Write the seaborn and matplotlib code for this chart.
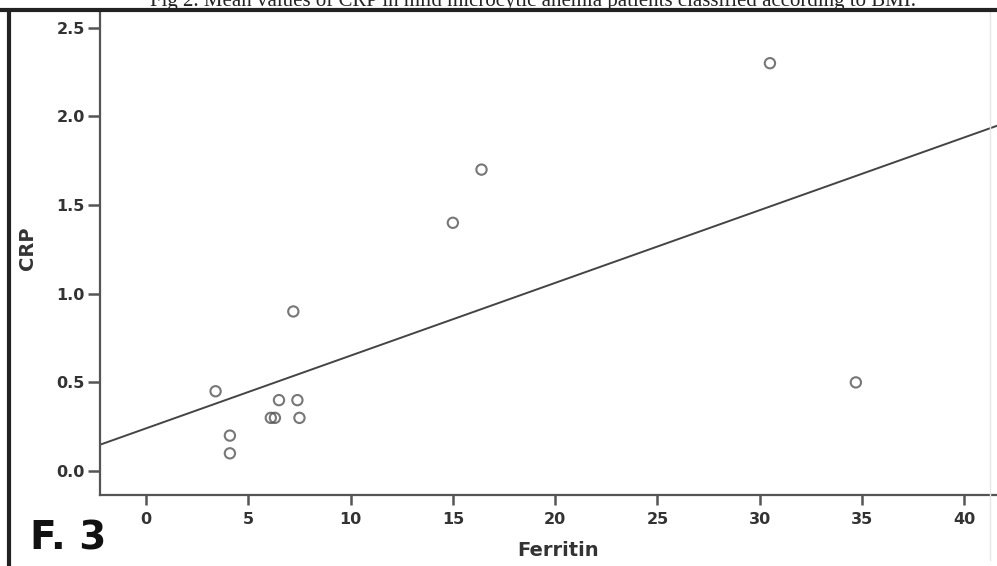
import numpy as np
import pandas as pd
import matplotlib
matplotlib.use("Agg")
import matplotlib.pyplot as plt
import seaborn as sns
from matplotlib.lines import Line2D

# values
ferritin = [3.4, 4.1, 4.1, 6.1, 6.3, 6.5, 7.2, 7.4, 7.5, 15.0, 16.4, 30.5, 34.7]
crp = [0.45, 0.2, 0.1, 0.3, 0.3, 0.4, 0.9, 0.4, 0.3, 1.4, 1.7, 2.3, 0.5]
xticks = [0, 5, 10, 15, 20, 25, 30, 35, 40]
yticks = [0.0, 0.5, 1.0, 1.5, 2.0, 2.5]

data = pd.DataFrame({"Ferritin": ferritin, "CRP": crp})

sns.set_style("white")
plt.rcParams["font.family"] = ["DejaVu Sans"]

fig = plt.figure(figsize=(9.97, 5.66), dpi=100)
ax = fig.add_axes([100 / 997, 1 - 495 / 566, 897 / 997, 485 / 566])
ax.set_xlim(-2.25, 41.6)
ax.set_ylim(-0.135, 2.6)

sns.regplot(data=data, x="Ferritin", y="CRP", ax=ax, ci=None, truncate=False,
            scatter_kws=dict(s=55, facecolors="none", edgecolors="#555555", linewidths=1.5),
            line_kws=dict(color="#444444", lw=1.4))

ax.set_xticks(xticks)
ax.set_yticks(yticks)
ax.set_yticklabels([f"{v:.1f}" for v in yticks])
ax.tick_params(axis="both", which="major", bottom=True, left=True, direction="out",
               width=1.8, color="#555555", labelsize=11.5, labelcolor="#333333")
ax.tick_params(axis="x", length=7.5, pad=4.5)
ax.tick_params(axis="y", length=9, pad=2)
for lab in ax.get_xticklabels() + ax.get_yticklabels():
    lab.set_fontweight("bold")

for s in ["top", "right"]:
    ax.spines[s].set_visible(False)
for s in ["left", "bottom"]:
    ax.spines[s].set_color("#555555")
    ax.spines[s].set_linewidth(1.6)

ax.set_xlabel("Ferritin", fontsize=14, fontweight="bold", color="#333333")
ax.set_ylabel("CRP", fontsize=14, fontweight="bold", color="#333333")
ax.xaxis.label.set_va("center")
ax.yaxis.label.set_va("center")
ax.xaxis.set_label_coords((558 - 100) / 897, -(550 - 495) / 485)
ax.yaxis.set_label_coords(-(100 - 27) / 897, (495 - 248) / 485)

# faint inner frame on the right
fig.add_artist(Line2D([990 / 997, 990 / 997], [1 - 560 / 566, 1 - 12 / 566],
                      color="#e6e6e6", lw=1))
# scan border lines
fig.add_artist(Line2D([0, 1], [1 - 9.5 / 566, 1 - 9.5 / 566], color="#222222", lw=3))
fig.add_artist(Line2D([9 / 997, 9 / 997], [0, 1 - 9.5 / 566], color="#222222", lw=3))

fig.text(30 / 997, 1 - 539 / 566, "F. 3", fontsize=28, fontweight="bold",
         color="#111111", va="center", ha="left")
fig.text(533 / 997, 1 - 1 / 566,
         "Fig 2. Mean values of CRP in mild microcytic anemia patients classified according to BMI.",
         fontsize=15, family=["Liberation Serif", "DejaVu Serif"], color="#222222",
         ha="center", va="center")

fig.savefig("out.png", dpi=100)
